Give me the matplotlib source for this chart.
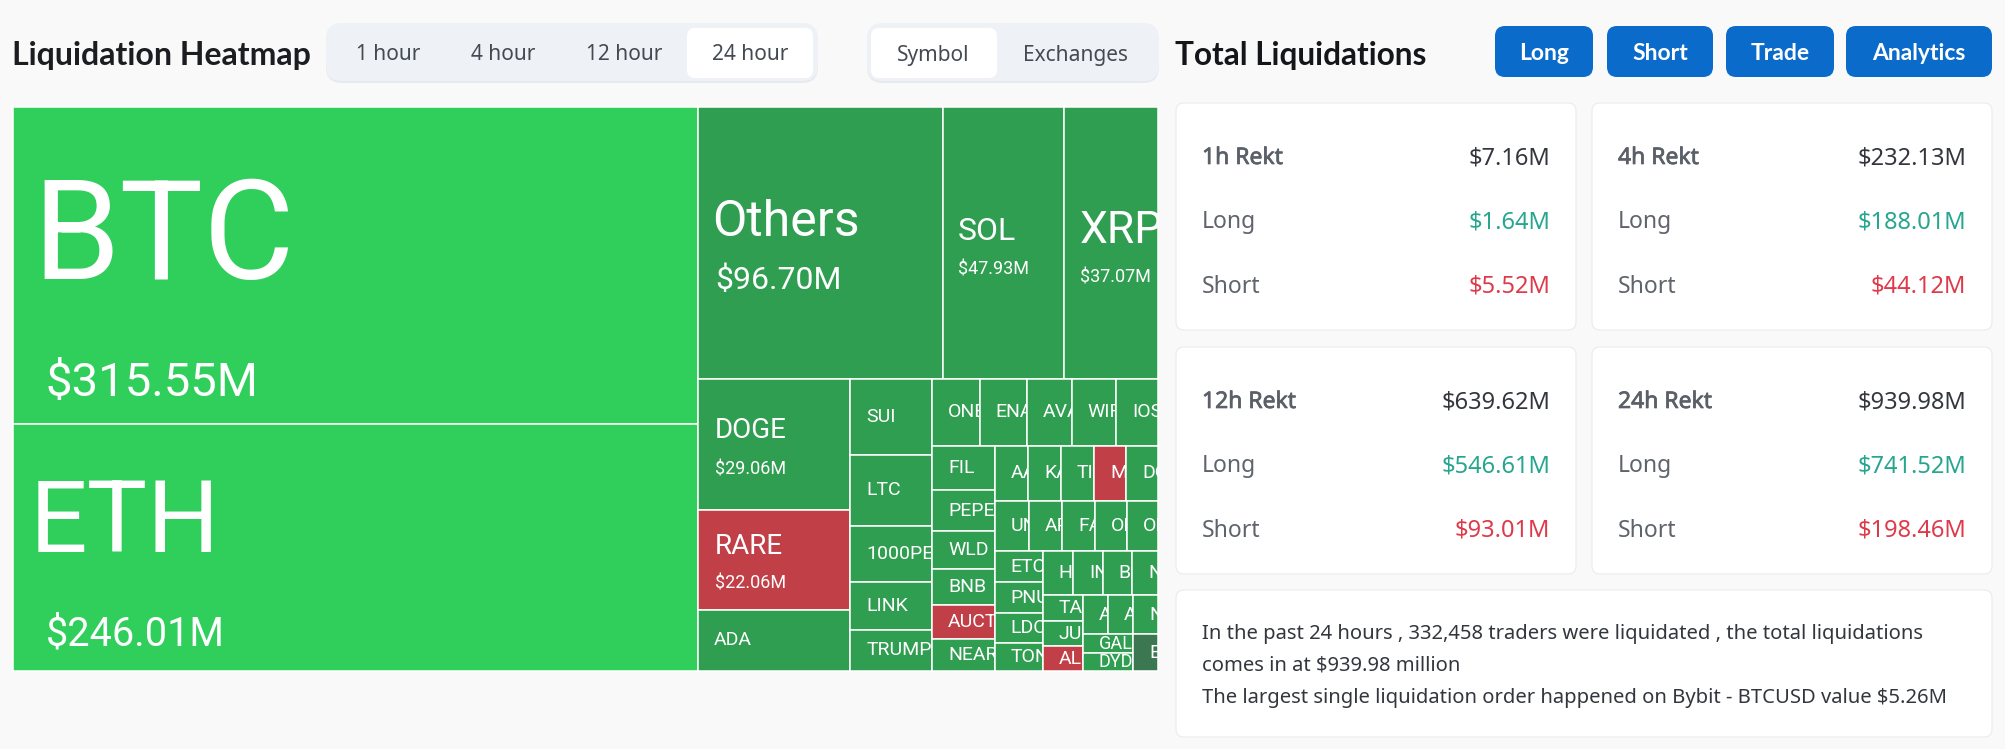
import math
import matplotlib
matplotlib.use('Agg')
import matplotlib.pyplot as plt
import matplotlib.patheffects as pe
from matplotlib.patches import Rectangle, FancyBboxPatch

# heatmap tiles, biggest first ($M)
tile_names = ['BTC', 'ETH', 'Others', 'SOL', 'XRP', 'DOGE', 'RARE', 'ADA',
              'SUI', 'LTC', '1000PEPE', 'LINK', 'TRUMP',
              'ONE', 'ENA', 'AVAX', 'WIF', 'IOST',
              'FIL', 'PEPE', 'WLD', 'BNB', 'AUCTION', 'NEAR',
              'AAVE', 'KAITO', 'TIA', 'MOVE', 'DOT',
              'UNI', 'APT', 'FARTCOIN', 'OP', 'ORDI',
              'ETC', 'PNUT', 'LDO', 'TON',
              'HBAR', 'INJ', 'BCH', 'NOT',
              'TAO', 'JUP', 'ALCH', 'ARB', 'ATOM', 'NEO',
              'GALA', 'DYDX', 'EIGEN']
tile_values = [315.55, 246.01, 96.70, 47.93, 37.07, 29.06, 22.06, 13.5,
               9.0, 8.4, 6.6, 5.7, 4.9,
               4.6, 4.55, 4.35, 4.3, 4.05,
               4.06, 3.7, 3.43, 3.34, 3.07, 2.89,
               2.68, 2.66, 2.64, 2.58, 2.57,
               2.5, 2.48, 2.4, 2.35, 2.27,
               2.17, 2.15, 2.12, 1.96,
               1.94, 1.89, 1.87, 1.67,
               1.48, 1.46, 1.43, 1.43, 1.42, 1.41,
               1.37, 1.32, 1.33]
red_tiles = ['RARE', 'AUCTION', 'MOVE', 'ALCH']
bright_tiles = ['BTC', 'ETH']
dark_tiles = ['EIGEN']

range_tabs = ['1 hour', '4 hour', '12 hour', '24 hour']
group_tabs = ['Symbol', 'Exchanges']
buttons = ['Long', 'Short', 'Trade', 'Analytics']

rekt_labels = ['1h Rekt', '4h Rekt', '12h Rekt', '24h Rekt']
rekt_total = ['$7.16M', '$232.13M', '$639.62M', '$939.98M']
rekt_long = ['$1.64M', '$188.01M', '$546.61M', '$741.52M']
rekt_short = ['$5.52M', '$44.12M', '$93.01M', '$198.46M']

summary = ['In the past 24 hours , 332,458 traders were liquidated , the total liquidations',
           'comes in at $939.98 million',
           'The largest single liquidation order happened on Bybit - BTCUSD value $5.26M']

UI_FONT = 'Noto Sans'
BOLD_FONT = 'Lato'
TILE_FONT = 'Roboto'
BG = '#f9f9fa'


def worst(row, fixed):
    ratio = 0.5 * (1 + math.sqrt(5))
    total = sum(a for _, a in row)
    areas = [a for _, a in row]
    s2 = fixed * fixed * ratio
    return max(s2 * max(areas) / total ** 2, total ** 2 / (s2 * min(areas)))


def layout(names, values, x, y, w, h):
    # squarified treemap, same row rule as echarts
    scale = w * h / sum(values)
    items = [(n, v * scale) for n, v in zip(names, values)]
    out = {}
    row = []
    best = float('inf')
    fixed = min(w, h)
    while items or row:
        score = worst(row + [items[0]], fixed) if items else float('inf')
        if score <= best:
            row.append(items.pop(0))
            best = score
            continue
        total = sum(a for _, a in row)
        thick = total / fixed
        pos = 0
        for n, a in row:
            length = a / thick
            if w >= h:  # column on the left
                out[n] = (x, y + pos, thick, length)
            else:       # row on top
                out[n] = (x + pos, y, length, thick)
            pos += length
        if w >= h:
            x += thick
            w -= thick
        else:
            y += thick
            h -= thick
        row = []
        best = float('inf')
        fixed = min(w, h)
    return out


def box(ax, x0, y0, x1, y1, color, edge='none', r=8, z=1):
    p = FancyBboxPatch((x0, y0), x1 - x0, y1 - y0, boxstyle='round,pad=0,rounding_size=%d' % r,
                       facecolor=color, edgecolor=edge, linewidth=0.8, zorder=z)
    ax.add_patch(p)


fig = plt.figure(figsize=(20.05, 7.49), dpi=100, facecolor=BG)
ax = fig.add_axes([0, 0, 1, 1])
ax.set_xlim(0, 2005)
ax.set_ylim(749, 0)
ax.axis('off')

# header left
ax.text(12, 56, 'Liquidation Heatmap', fontsize=23, fontweight='bold', color='#1b1d21',
        family=BOLD_FONT, va='center')
box(ax, 326, 25, 818, 83, '#e6e9ee', r=16)
box(ax, 326, 23, 818, 81, '#eef1f6', r=16)
box(ax, 687, 28, 813, 78, 'white', r=8, z=2)
for label, cx in zip(range_tabs, [388, 503, 624, 750]):
    ax.text(cx, 55, label, ha='center', va='center', fontsize=15, color='#444a52', family=UI_FONT, zorder=3)
box(ax, 867, 25, 1159, 83, '#e6e9ee', r=16)
box(ax, 867, 23, 1159, 81, '#eef1f6', r=16)
box(ax, 871, 28, 997, 78, 'white', r=8, z=2)
for label, cx in zip(group_tabs, [933, 1076]):
    ax.text(cx, 55, label, ha='center', va='center', fontsize=15, color='#444a52', family=UI_FONT, zorder=3)

# header right
ax.text(1175, 55, 'Total Liquidations', fontsize=22.7, fontweight='bold', color='#14161a',
        family=BOLD_FONT, va='center')
for label, (x0, x1) in zip(buttons, [(1495, 1593), (1607, 1713), (1726, 1834), (1846, 1992)]):
    box(ax, x0, 26, x1, 77, '#0b6bcb', r=10)
    ax.text((x0 + x1) / 2, 53, label, ha='center', va='center', fontsize=16.5, fontweight='bold',
            color='white', family=BOLD_FONT, zorder=3)

# treemap
tiles = layout(tile_names, tile_values, 13, 107, 1145, 564)
big_style = {
    'BTC': (101, 19, 241, 34, 33, 383),
    'ETH': (73, 17, 525, 28.5, 33, 634),
    'Others': (36, 14, 222, 23, 17, 280),
    'SOL': (23, 15, 231, 13, 15, 269),
    'XRP': (32, 16, 231, 13, 16, 278),
    'DOGE': (20, 17, 431, 13, 17, 469),
    'RARE': (20, 17, 546, 13, 17, 583),
}
for name, value in zip(tile_names, tile_values):
    x, y, w, h = tiles[name]
    color = '#309e51'
    if name in bright_tiles:
        color = '#30cf5c'
    elif name in red_tiles:
        color = '#c14047'
    elif name in dark_tiles:
        color = '#3b7750'
    rect = Rectangle((x, y), w, h, facecolor=color, edgecolor='white', linewidth=1.1, zorder=2)
    ax.add_patch(rect)
    clip = Rectangle((x, y), w, h, transform=ax.transData)
    if name in big_style:
        fs, dx, ty, vfs, vdx, vy = big_style[name]
        t = ax.text(x + dx, ty, name, fontsize=fs, color='white', va='center', family=TILE_FONT,
                    zorder=3, clip_on=True)
        t.set_clip_path(clip)
        t2 = ax.text(x + vdx, vy, '$%.2fM' % value, fontsize=vfs, color='white', va='center',
                     family=TILE_FONT, zorder=3, clip_on=True)
        t2.set_clip_path(clip)
    else:
        t = ax.text(x + 16, y + h / 2, name, fontsize=14 if h > 20 else 13, color='white', va='center',
                    family=TILE_FONT, zorder=3, clip_on=True)
        t.set_clip_path(clip)

# rekt cards
card_x = [1176, 1592, 1176, 1592]
card_y = [103, 103, 347, 347]
for i in range(4):
    x0, y0 = card_x[i], card_y[i]
    box(ax, x0, y0, x0 + 400, y0 + 227, 'white', edge='#e9ebee', r=8)
    left, right = x0 + 26, x0 + 374
    ax.text(left, y0 + 55, rekt_labels[i], fontsize=16.5, color='#5a5f68', va='center', family=UI_FONT,
            zorder=3, path_effects=[pe.withStroke(linewidth=0.5, foreground='#5a5f68')])
    ax.text(right, y0 + 55, rekt_total[i], fontsize=17, color='#33373d', va='center', ha='right',
            family=UI_FONT, zorder=3)
    ax.text(left, y0 + 119, 'Long', fontsize=16.5, color='#5f646c', va='center', family=UI_FONT, zorder=3)
    ax.text(right, y0 + 119, rekt_long[i], fontsize=17, color='#26a68f', va='center', ha='right',
            family=UI_FONT, zorder=3)
    ax.text(left, y0 + 184, 'Short', fontsize=16.5, color='#5f646c', va='center', family=UI_FONT, zorder=3)
    ax.text(right, y0 + 184, rekt_short[i], fontsize=17, color='#de3a4a', va='center', ha='right',
            family=UI_FONT, zorder=3)

# summary card
box(ax, 1176, 590, 1992, 737, 'white', edge='#e9ebee', r=8)
for line, ty in zip(summary, [634, 666, 698]):
    ax.text(1202, ty, line, fontsize=14.55, color='#33373d', va='center', family=UI_FONT, zorder=3)

fig.savefig('out.png', dpi=100, facecolor=BG)
